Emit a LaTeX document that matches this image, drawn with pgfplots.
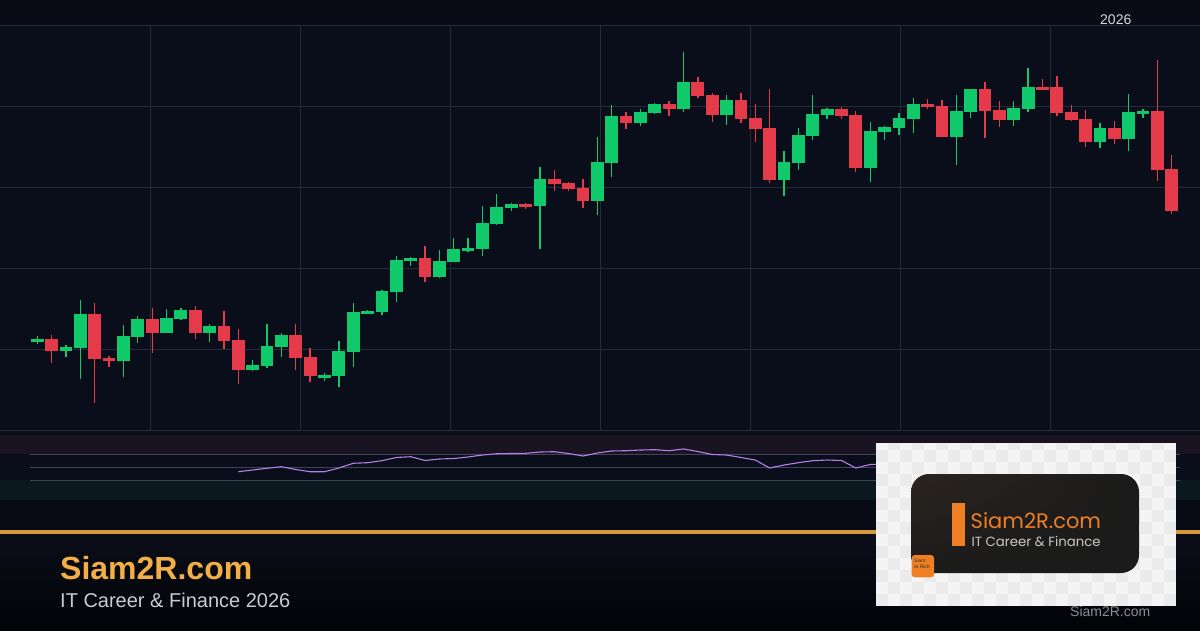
\documentclass[border=0pt]{standalone}
\usepackage{fontspec}
\setmainfont{Liberation Sans}
\newfontfamily\logofont{Poppins}
\usepackage{pgfplots}
\usepackage{pgfplotstable}
\usetikzlibrary{shadings}
\pgfplotsset{compat=1.18}

\definecolor{bgpanel}{HTML}{0A0E1B}
\definecolor{bgtop}{HTML}{080B15}
\definecolor{bgmid}{HTML}{080B15}
\definecolor{rsiup}{HTML}{1A1322}
\definecolor{rsidn}{HTML}{0B181E}
\definecolor{foottop}{HTML}{0B0E19}
\definecolor{footbot}{HTML}{020306}
\definecolor{gridc}{HTML}{252A3A}
\definecolor{rsigrid}{HTML}{3E4557}
\definecolor{gup}{HTML}{10C96A}
\definecolor{gdn}{HTML}{E43A4A}
\definecolor{rsiline}{HTML}{B47FEA}
\definecolor{orline}{HTML}{D6983C}
\definecolor{titleor}{HTML}{F2AE47}
\definecolor{subgray}{HTML}{C8CBD2}
\definecolor{wmgray}{HTML}{8A8D94}
\definecolor{lbl}{HTML}{D5D8E0}
\definecolor{chkA}{HTML}{F4F4F4}
\definecolor{chkB}{HTML}{EBEBEB}
\definecolor{logodarkA}{HTML}{2A241F}
\definecolor{logodarkB}{HTML}{1B1B1B}
\definecolor{logoorange}{HTML}{EF7F25}
\definecolor{logogray}{HTML}{C8C8C8}

% candles: index, open, high, low, close (price units = pixels above panel bottom)
\pgfplotstableread{
i o h l c
0 88 94 86 91.3
2 79.3 85 73.3 83
3 82.3 130 51.3 116
6 69.3 105 53.3 94
7 93.3 113.7 87.3 111
9 97.3 121 97.3 112
10 111.3 122 110 120
12 97.3 106 88.3 104
15 60.3 70 59.3 65
16 64.3 106 62.3 84
17 83.3 97 73.3 95
20 52.3 56.7 49.3 55.3
21 54.3 89 43.3 79
22 78.3 127 63.3 118
23 116.3 120.3 116.3 119.3
24 118.3 140.3 115.3 139.3
25 138.3 174 128.3 170
26 169.3 173.3 164.3 172
28 153 180 152.3 169
29 168.3 192 168.3 181
30 179.3 192 178.3 182.3
31 181 224 174.3 207.3
32 206 236 205 223
33 222.3 227.3 219.3 226
35 224 262.7 181 251
39 229 293 215 268
40 267 325 253.3 314
42 307 321 304 318
43 317 327.3 316 326
45 321 378 318 348
48 315 335 305 330
52 250 279 234 268
53 267 302 260 295
54 294 335 290 316
55 315 322 311 321
58 262 308 248 299
59 298 304 290 303
60 302 317 295 312
61 311 332 297 326
64 293 335 265 319
65 318 341 312 341
68 310 329 304 322
69 321 362 318 343
74 288 307 282 302
76 291 336 279 318
77 316 321 312 319
}\greentab

\pgfplotstableread{
i o h l c
1 91 95 67.3 79.3
4 116 127 27.3 71.3
5 72.3 74 63.3 69.3
8 111 122 77.3 97.3
11 120 124 91.3 97.3
13 104 119 81.3 89.3
14 90 101 46.3 60.3
18 95 106 60.3 72.3
19 73.3 82.3 48.3 54.3
27 172 184 147.7 153.3
34 226 227.3 221.3 223
36 251 260 239.3 246.3
37 247 248 239.3 241
38 242.3 251 222.3 229.3
41 314 318 301.3 307
44 326 329 314 321
46 348 353 332 334
47 335 337 308 315
49 330 337 307 311
50 312 326 288 301
51 302 341 247 250
56 321 323 311 314
57 315 319 258 262
62 326 331 321 323
63 324 330 293 293
66 341 348 292 319
67 320 329 303 310
70 343 351 340 340
71 343 354 314 317
72 318 325 309 310
73 311 320 283 288
75 302 309 286 291
78 319 370 249 260
79 261 275 216 219
}\redtab

\pgfplotstableread{
i rsi
14 43.5
15 46.2
16 48.8
17 51.2
18 46.9
19 43.5
20 43.5
21 49.2
22 56.5
23 57.4
24 60.5
25 65.4
26 66.6
27 60.8
28 63.1
29 63.8
30 66.2
31 69.2
32 71.2
33 71.5
34 71.8
35 73.8
36 74.3
37 71.5
38 67.7
39 72.3
40 75.4
41 75.8
42 76.9
43 77.4
44 75.8
45 78.5
46 74.6
47 70.0
48 69.2
49 65.4
50 61.5
51 49.2
52 53.8
53 57.4
54 60.5
55 61.5
56 60.8
57 49.2
58 54.6
59 55
60 58
61 61
62 60
63 55
64 58
65 63
66 58
67 56
68 57
69 63
70 62
71 58
72 55
73 50
74 52
75 50
76 55
77 56
78 45
79 38
}\rsitab

\begin{document}
\begin{tikzpicture}
\useasboundingbox (0pt,0pt) rectangle (1200pt,630pt);
\begin{scope}[x=1pt,y=1pt]
  \fill[bgpanel] (0,0) rectangle (1200,630);
  \fill[bgtop] (0,605) rectangle (1200,630);
  \fill[rsiup] (0,176) rectangle (1200,195);
  \fill[rsidn] (0,130) rectangle (1200,150);
  \fill[bgmid] (0,100) rectangle (1200,130);
  \shade[top color=foottop, bottom color=footbot] (0,0) rectangle (1200,96.5);
  \draw[rsigrid, line width=0.9pt] (30,176) -- (1180,176);
  \draw[rsigrid, line width=0.9pt] (30,163) -- (1180,163);
  \draw[rsigrid, line width=0.9pt] (30,150) -- (1180,150);
  % price panel grid
  \foreach \yy in {200,281,362,443,524,605} \draw[gridc, line width=0.9pt] (0,\yy) -- (1200,\yy);
  \foreach \xx in {150.5,300.5,450.4,600.3,750.3,900.3,1050.3} \draw[gridc, line width=0.9pt] (\xx,200) -- (\xx,605);
\end{scope}

% price panel
\begin{axis}[
  at={(0pt,200pt)}, anchor=south west,
  width=1200pt, height=405pt, scale only axis,
  xmin=-2.597, xmax=80.967, ymin=0, ymax=405,
  hide axis,
]
% wicks
\addplot[draw=none, mark=none, forget plot,
  error bars/.cd, y dir=plus, y explicit, error mark=none,
  error bar style={draw=gup, line width=1.3pt}]
  table[x=i, y=l, y error expr=\thisrow{h}-\thisrow{l}] {\greentab};
\addplot[draw=none, mark=none, forget plot,
  error bars/.cd, y dir=plus, y explicit, error mark=none,
  error bar style={draw=gdn, line width=1.3pt}]
  table[x=i, y=l, y error expr=\thisrow{h}-\thisrow{l}] {\redtab};
% bodies
\addplot[draw=none, mark=none, forget plot,
  error bars/.cd, y dir=plus, y explicit, error mark=none,
  error bar style={draw=gup, line width=12.8pt}]
  table[x=i, y=o, y error expr=\thisrow{c}-\thisrow{o}] {\greentab};
\addplot[draw=none, mark=none, forget plot,
  error bars/.cd, y dir=plus, y explicit, error mark=none,
  error bar style={draw=gdn, line width=12.8pt}]
  table[x=i, y=c, y error expr=\thisrow{o}-\thisrow{c}] {\redtab};
\end{axis}

% RSI panel
\begin{axis}[
  at={(0pt,130pt)}, anchor=south west,
  width=1200pt, height=65pt, scale only axis,
  xmin=-2.597, xmax=80.967, ymin=0, ymax=100,
  hide axis,
]
\addplot[rsiline, line width=1.1pt, mark=none] table[x=i, y=rsi] {\rsitab};
\end{axis}

\begin{scope}[x=1pt,y=1pt]
  \node[anchor=base west, inner sep=0, text=lbl, font=\fontsize{14}{16}\selectfont] at (1100,605.5) {2026};
  \draw[orline, line width=3.5pt] (0,98.2) -- (1200,98.2);
  \node[anchor=base west, inner sep=0, text=titleor, font=\bfseries\fontsize{32}{36}\selectfont] at (60,50.7) {Siam2R.com};
  \node[anchor=base west, inner sep=0, text=subgray, font=\fontsize{20}{24}\selectfont] at (60,22.7) {IT Career \& Finance 2026};
  \node[anchor=base west, inner sep=0, text=wmgray, font=\fontsize{14}{16}\selectfont] at (1070,14) {Siam2R.com};
  % logo
  \fill[chkA] (876,24) rectangle (1176,187);
  \begin{scope}
    \clip (876,24) rectangle (1176,187);
    \foreach \ii in {0,...,24}{
      \foreach \jj in {0,...,13}{
        \pgfmathtruncatemacro\kk{mod(\ii+\jj,2)}
        \ifnum\kk=0 \fill[chkB] ({876+12*\ii},{24+12*\jj}) rectangle ++(12,12);\fi
      }
    }
  \end{scope}
  \shade[rounded corners=18pt, upper left=logodarkA, upper right=logodarkB, lower left=logodarkB, lower right=logodarkB] (911,57) rectangle (1139,156);
  \fill[logoorange] (952,84) rectangle (965,127);
  \node[anchor=base west, inner sep=0, text=logoorange, font=\logofont\fontsize{21}{23}\selectfont] at (970.5,101.7) {Siam2R.com};
  \node[anchor=base west, inner sep=0, text=logogray, font=\logofont\fontsize{13.3}{15}\selectfont] at (971.5,84) {IT Career \& Finance};
  \fill[logoorange, rounded corners=3pt] (911.7,52.7) rectangle (934,75);
  \node[anchor=north west, inner sep=0, align=left, text=black!80, font=\fontsize{5}{5.5}\selectfont] at (914,71) {Siam\\to Rich};
\end{scope}
\end{tikzpicture}
\end{document}
